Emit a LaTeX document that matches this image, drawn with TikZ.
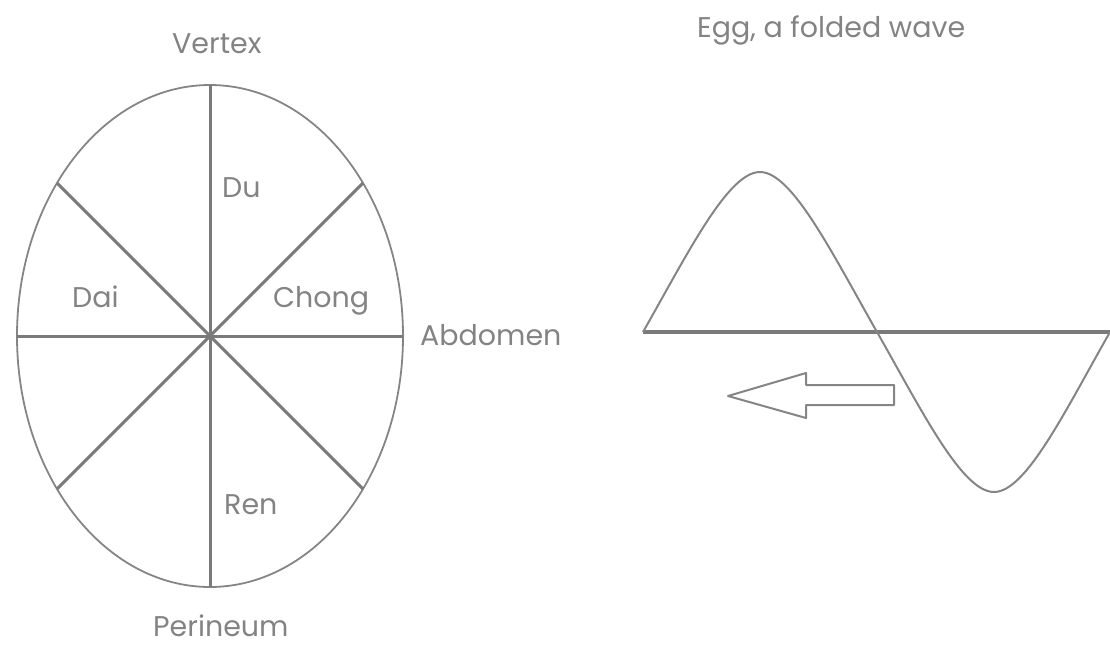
\documentclass[tikz,border=0pt]{standalone}
\usepackage{fontspec}
\setmainfont{Poppins}
\usetikzlibrary{shapes.geometric}
\definecolor{ink}{HTML}{858585}
\definecolor{spoke}{HTML}{7A7A7A}
\definecolor{txt}{HTML}{838383}
\tikzset{
  lbl/.style={inner sep=0pt, anchor=base west, text=txt, font=\fontsize{28.5}{31}\selectfont},
  rim/.style={draw=ink, line width=1.8pt},
  spk/.style={draw=spoke, line width=3pt},
  wave/.style={draw=ink, line width=2pt, line join=round},
  axis/.style={draw=spoke, line width=3.4pt},
  hollow/.style={draw=ink, line width=2pt, line join=round, fill=white}
}
\begin{document}
\begin{tikzpicture}[x=1pt, y=-1pt]
\useasboundingbox (0,0) rectangle (1110,645);
% egg
\node[ellipse, rim, minimum width=386pt, minimum height=502pt, inner sep=0pt, outer sep=0pt] (egg) at (210,336) {};
\coordinate (c) at (egg.center);
\draw[spk] (egg.north) -- (egg.south);
\draw[spk] (egg.west) -- (egg.east);
\draw[spk] (egg.135) -- (egg.-45);
\draw[spk] (egg.45) -- (egg.-135);
% labels
\node[lbl] (vertex) at (172,53) {Vertex};
\node[lbl] (du) at (222,197) {Du};
\node[lbl] (dai) at (72,307) {Dai};
\node[lbl] (chong) at (273,307) {Chong};
\node[lbl] (ren) at (224,514) {Ren};
\node[lbl] (abd) at (420,345) {Abdomen};
\node[lbl] (per) at (153,636) {Perineum};
\node[lbl] (title) at (697,37) {Egg, a folded wave};
% wave
\coordinate (w0) at (643,332);
\coordinate (wp) at (760,172);
\coordinate (wz) at (877,332);
\coordinate (wt) at (994,492);
\coordinate (w1) at (1110,332);
\draw[axis] (w0) -- (w1);
\draw[wave] (w0) .. controls (688,253) and (728,172) .. (wp)
  .. controls (792,172) and (832,253) .. (wz)
  .. controls (922,411) and (962,492) .. (wt)
  .. controls (1026,492) and (1065,411) .. (w1);
% arrow
\draw[hollow] (728,396) -- (806,373) -- (806,385) -- (894,385) -- (894,405) -- (806,405) -- (806,418) -- cycle;
\end{tikzpicture}
\end{document}
